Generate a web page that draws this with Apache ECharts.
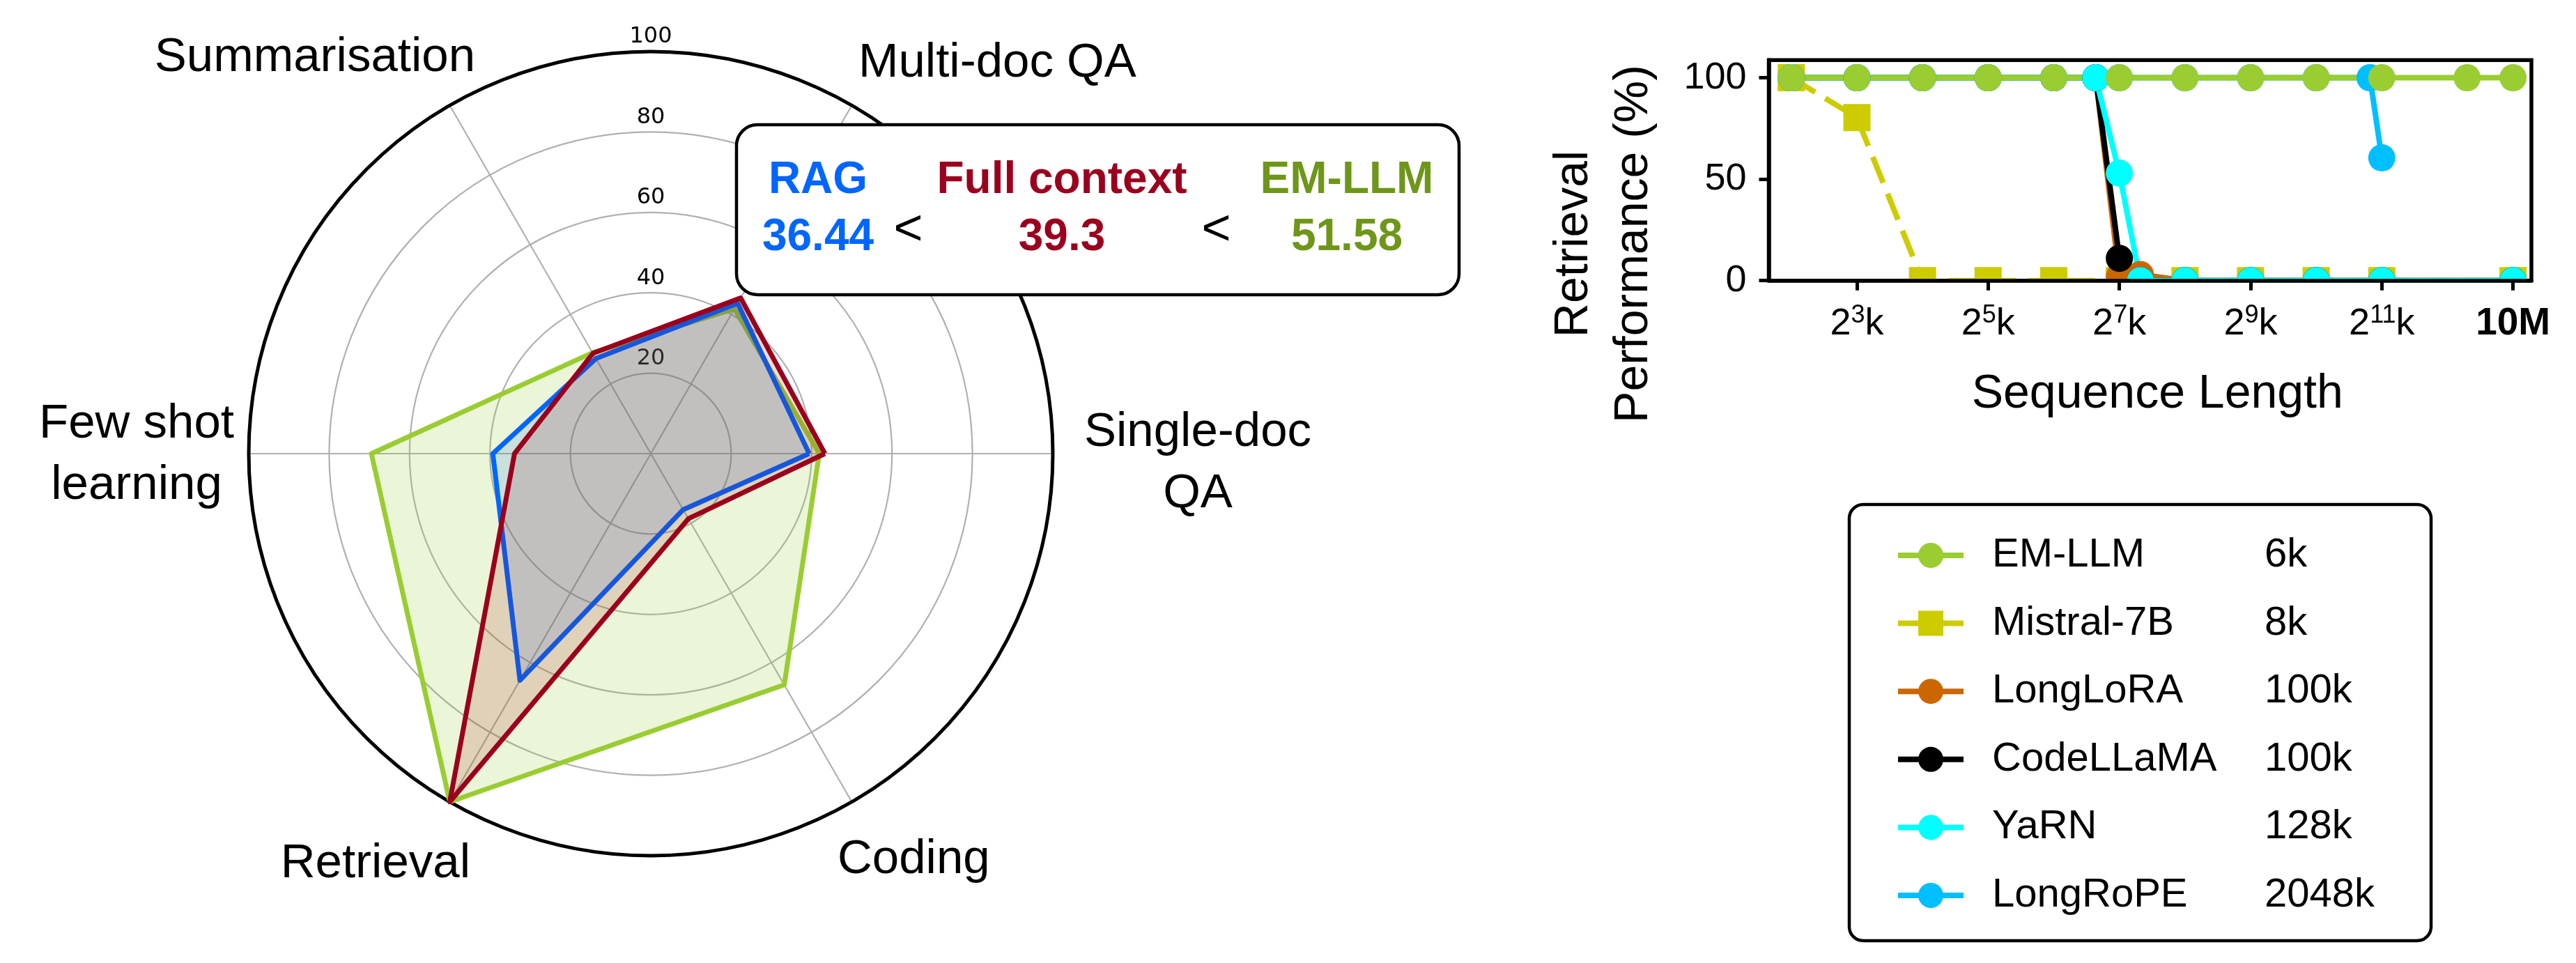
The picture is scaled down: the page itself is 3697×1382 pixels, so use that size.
<!DOCTYPE html>
<html><head><meta charset="utf-8">
<script src="https://cdn.jsdelivr.net/npm/echarts@6/dist/echarts.min.js"></script>
<style>html,body{margin:0;padding:0;background:#fff}#c{width:3697px;height:1382px}</style>
</head><body><div id="c"></div>
<script>
// ---------------- data ----------------
const radarCategories = ['Single-doc\nQA', 'Multi-doc QA', 'Summarisation', 'Few shot\nlearning', 'Retrieval', 'Coding'];
const radarRingTicks = [0, 20, 40, 60, 80, 100];
const ragScores = [39.4, 43.2, 27.3, 39.3, 65.1, 16.1];
const fullContextScores = [43.3, 44.7, 28.8, 33.9, 100, 18.7];
const emllmScores = [41.9, 41.6, 29.0, 69.5, 100, 66.4];
const methodNames = ['RAG', 'Full context', 'EM-LLM'];
const methodAverages = ['36.44', '39.3', '51.58'];

// x positions are log2(sequence length in k)
const xTickPositions = [3, 5, 7, 9, 11, 13];
const xTickLabels = ['2^3k', '2^5k', '2^7k', '2^9k', '2^11k', '10M'];
const yTickValues = [0, 50, 100];

const emllmX = [2, 3, 4, 5, 6, 7, 8, 9, 10, 11, 12.3, 13];
const emllmY = [100, 100, 100, 100, 100, 100, 100, 100, 100, 100, 100, 100];
const mistralX = [2, 3, 4, 5, 6, 7, 8, 9, 10, 11, 13];
const mistralY = [100, 80.4, 0, 0, 0, 0, 0, 0, 0, 0, 0];
const longloraX = [2, 3, 4, 5, 6, 6.64, 7, 7.32, 8, 9, 10, 11, 13];
const longloraY = [100, 100, 100, 100, 100, 100, 2, 3, 0, 0, 0, 0, 0];
const codellamaX = [2, 3, 4, 5, 6, 6.64, 7, 7.32, 8, 9, 10, 11, 13];
const codellamaY = [100, 100, 100, 100, 100, 100, 11, 0, 0, 0, 0, 0, 0];
const yarnX = [2, 3, 4, 5, 6, 6.64, 7, 7.32, 8, 9, 10, 11, 13];
const yarnY = [100, 100, 100, 100, 100, 100, 53, 0, 0, 0, 0, 0, 0];
const longropeX = [2, 3, 4, 5, 6, 7, 8, 9, 10, 10.82, 11];
const longropeY = [100, 100, 100, 100, 100, 100, 100, 100, 100, 100, 60.5];

const legendNames = ['EM-LLM', 'Mistral-7B', 'LongLoRA', 'CodeLLaMA', 'YaRN', 'LongRoPE'];
const legendContext = ['6k', '8k', '100k', '100k', '128k', '2048k'];

// ---------------- styles ----------------
const FONT = 'Liberation Sans';
const C = {
  rag: '#0066FF', full: '#9B001E', em: '#9ACD32', emText: '#6E9619',
  mistral: '#CCCC00', longlora: '#CC6600', codellama: '#000000', yarn: '#00FFFF', longrope: '#00BFFF'
};
const CX = 934, CY = 651, R = 577;
const catPads = [[27, 0, 0, 111], [0, 0, 84, 46], [0, 0, 92, 0], [3, 64, 0, 0], [112, 7, 0, 0], [106, 0, 0, 16]];

const zip = (xs, ys) => xs.map((x, i) => [x, ys[i]]);
const ctxByName = {};
legendNames.forEach((n, i) => { ctxByName[n] = legendContext[i]; });

function lineSeries(name, xs, ys, color, symbol, dashed) {
  return {
    type: 'line', name: name, data: zip(xs, ys),
    symbol: symbol, symbolSize: 39,
    lineStyle: { color: color, width: 8, type: dashed ? [40, 17] : 'solid' },
    itemStyle: { color: color },
    clip: true
  };
}

const chart = echarts.init(document.getElementById('c'), null, { renderer: 'canvas', width: 3697, height: 1382 });

const option = {
  animation: false,
  backgroundColor: '#fff',
  textStyle: { fontFamily: FONT },
  polar: [
    { center: [CX, CY], radius: R },
    { center: [CX, CY], radius: R }
  ],
  angleAxis: [
    {
      polarIndex: 0, type: 'value', min: 0, max: 360, startAngle: 90,
      axisLine: { show: true, lineStyle: { color: '#000', width: 5 } },
      axisTick: { show: false }, axisLabel: { show: false }, splitLine: { show: false }
    },
    {
      polarIndex: 1, type: 'category', boundaryGap: false, startAngle: 0, clockwise: false,
      data: radarCategories.map((c, i) => ({ value: c, textStyle: { padding: catPads[i] } })),
      axisLine: { show: false }, axisTick: { show: false },
      splitLine: { show: true, lineStyle: { color: '#b0b0b0', width: 2.2 } },
      axisLabel: {
        show: true, interval: 0, margin: -73, fontSize: 69, lineHeight: 80, color: '#000', fontFamily: FONT,
        formatter: function (v) {
          return v.indexOf('\n') >= 0 ? v.split('\n').map(s => '{w|' + s + '}').join('\n') : v;
        },
        rich: { w: { width: 340, align: 'center', fontSize: 69, lineHeight: 88, fontFamily: FONT, color: '#000' } }
      }
    }
  ],
  radiusAxis: [
    {
      polarIndex: 0, type: 'value', min: 0, max: 100, interval: 20,
      axisLine: { show: false }, axisTick: { show: false },
      axisLabel: {
        show: true, margin: 0, align: 'center', verticalAlign: 'bottom',
        fontFamily: 'DejaVu Sans', fontSize: 32, lineHeight: 32, color: '#000', padding: [0, 0, 5, 0],
        formatter: v => (radarRingTicks.indexOf(v) > 0 ? String(v) : '')
      },
      splitLine: { show: true, lineStyle: { color: '#b0b0b0', width: 2.2 } }
    },
    { polarIndex: 1, type: 'value', min: 0, max: 100, show: false }
  ],
  radar: {
    center: [CX, CY], radius: R, startAngle: 0, shape: 'circle', splitNumber: 5,
    indicator: radarCategories.map(c => ({ name: c, min: 0, max: 100 })),
    axisName: { show: false }, axisLine: { show: false }, splitLine: { show: false },
    splitArea: { show: false }, axisTick: { show: false }, axisLabel: { show: false }
  },
  grid: {
    left: 2538.5, top: 86.3, width: 1094.5, height: 316.4,
    show: true, borderColor: '#000', borderWidth: 5.5, containLabel: false, outerBoundsMode: 'none'
  },
  xAxis: {
    type: 'value', min: 1.657, max: 13.28, z: 10,
    axisLine: { show: true, onZero: false, lineStyle: { color: '#000', width: 5.5 } },
    axisTick: { show: true, customValues: xTickPositions, length: 14, lineStyle: { color: '#000', width: 5 } },
    splitLine: { show: false },
    axisLabel: {
      customValues: xTickPositions, margin: 32, color: '#000',
      formatter: function (v) {
        const lab = xTickLabels[xTickPositions.indexOf(v)] || '';
        if (lab.indexOf('^') >= 0) {
          const base = lab.split('^')[0];
          const rest = lab.split('^')[1];
          const exp = rest.replace(/[^0-9]/g, '');
          const unit = rest.replace(/[0-9]/g, '');
          return '{m|' + base + '}{s|' + exp + '}{m|' + unit + '}';
        }
        return '{b|' + lab + '}';
      },
      rich: {
        m: { fontSize: 54, lineHeight: 60, fontFamily: FONT, color: '#000' },
        s: { fontSize: 36, lineHeight: 36, verticalAlign: 'top', fontFamily: FONT, color: '#000' },
        b: { fontSize: 55, lineHeight: 60, fontWeight: 'bold', fontFamily: FONT, color: '#000' }
      }
    },
    name: 'Sequence Length', nameLocation: 'middle', nameGap: 124,
    nameTextStyle: { fontSize: 68, lineHeight: 80, color: '#000', fontFamily: FONT, padding: [0, 0, 0, 21] }
  },
  yAxis: {
    type: 'value', min: 0, max: 108.7, z: 10,
    axisLine: { show: true, lineStyle: { color: '#000', width: 5.5 } },
    axisTick: { show: true, customValues: yTickValues, length: 14, lineStyle: { color: '#000', width: 5 } },
    splitLine: { show: false },
    axisLabel: { customValues: yTickValues, margin: 32, fontSize: 54, color: '#000', fontFamily: FONT },
    name: 'Retrieval\nPerformance (%)', nameLocation: 'middle', nameGap: 150, nameRotate: 90,
    nameTextStyle: { fontSize: 68, lineHeight: 86, color: '#000', fontFamily: FONT, padding: [0, 211, 0, 0] }
  },
  legend: {
    show: true, orient: 'vertical', left: 2654, top: 724, height: 650,
    data: legendNames.map(n => ({ name: n })),
    itemWidth: 94, itemHeight: 45, itemGap: 39.6,
    padding: [44, 81, 36, 66],
    borderColor: '#000', borderWidth: 4.5, borderRadius: 20, backgroundColor: '#fff',
    lineStyle: { width: 8 },
    formatter: name => '{g| }{n|' + name + '}{c|' + ctxByName[name] + '}',
    textStyle: {
      fontSize: 58, lineHeight: 45, color: '#000', fontFamily: FONT,
      rich: {
        g: { width: 36, fontSize: 58, lineHeight: 45 },
        n: { width: 391, fontSize: 58, lineHeight: 45, fontFamily: FONT, color: '#000' },
        c: { fontSize: 58, lineHeight: 45, fontFamily: FONT, color: '#000' }
      }
    }
  },
  series: [
    {
      type: 'radar', radarIndex: 0, symbol: 'none', z: 3,
      data: [
        { name: methodNames[2], value: emllmScores, lineStyle: { color: C.em, width: 7 }, itemStyle: { color: C.em }, areaStyle: { color: 'rgba(154,205,50,0.28)' } },
        { name: methodNames[0], value: ragScores, lineStyle: { color: C.rag, width: 7 }, itemStyle: { color: C.rag }, areaStyle: { color: 'rgba(0,102,255,0.2)' } },
        { name: methodNames[1], value: fullContextScores, lineStyle: { color: C.full, width: 7 }, itemStyle: { color: C.full }, areaStyle: { color: 'rgba(155,0,8,0.2)' } }
      ]
    },
    lineSeries('Mistral-7B', mistralX, mistralY, C.mistral, 'rect', true),
    lineSeries('LongLoRA', longloraX, longloraY, C.longlora, 'circle', false),
    lineSeries('CodeLLaMA', codellamaX, codellamaY, C.codellama, 'circle', false),
    lineSeries('YaRN', yarnX, yarnY, C.yarn, 'circle', false),
    lineSeries('LongRoPE', longropeX, longropeY, C.longrope, 'circle', false),
    lineSeries('EM-LLM', emllmX, emllmY, C.em, 'circle', false)
  ],
  graphic: [
    // mask below the x axis so markers at 0 are cut like the axes clip them
    { type: 'rect', z: 5, silent: true, shape: { x: 2541, y: 405.6, width: 1100, height: 20 }, style: { fill: '#fff' } },
    {
      type: 'group', z: 100, children: [
        { type: 'rect', z: 100, shape: { x: 1057, y: 179, width: 1037, height: 244, r: 30 }, style: { fill: '#fff', stroke: '#000', lineWidth: 4.5 } }
      ].concat(methodNames.map((n, i) => ({
        type: 'text', z: 101, x: [1174, 1524, 1933][i], y: 259.5,
        style: { text: n, fill: [C.rag, C.full, C.emText][i], font: 'bold 64px "' + FONT + '"', align: 'center', verticalAlign: 'middle' }
      }))).concat(methodAverages.map((n, i) => ({
        type: 'text', z: 101, x: [1174, 1524, 1933][i], y: 341.4,
        style: { text: n, fill: [C.rag, C.full, C.emText][i], font: 'bold 64px "' + FONT + '"', align: 'center', verticalAlign: 'middle' }
      }))).concat([1303.5, 1745.5].map(x => ({
        type: 'text', z: 101, x: x, y: 331,
        style: { text: '<', fill: '#000', font: '72px "' + FONT + '"', align: 'center', verticalAlign: 'middle' }
      })))
    }
  ]
};
chart.setOption(option);
</script>
</body></html>
